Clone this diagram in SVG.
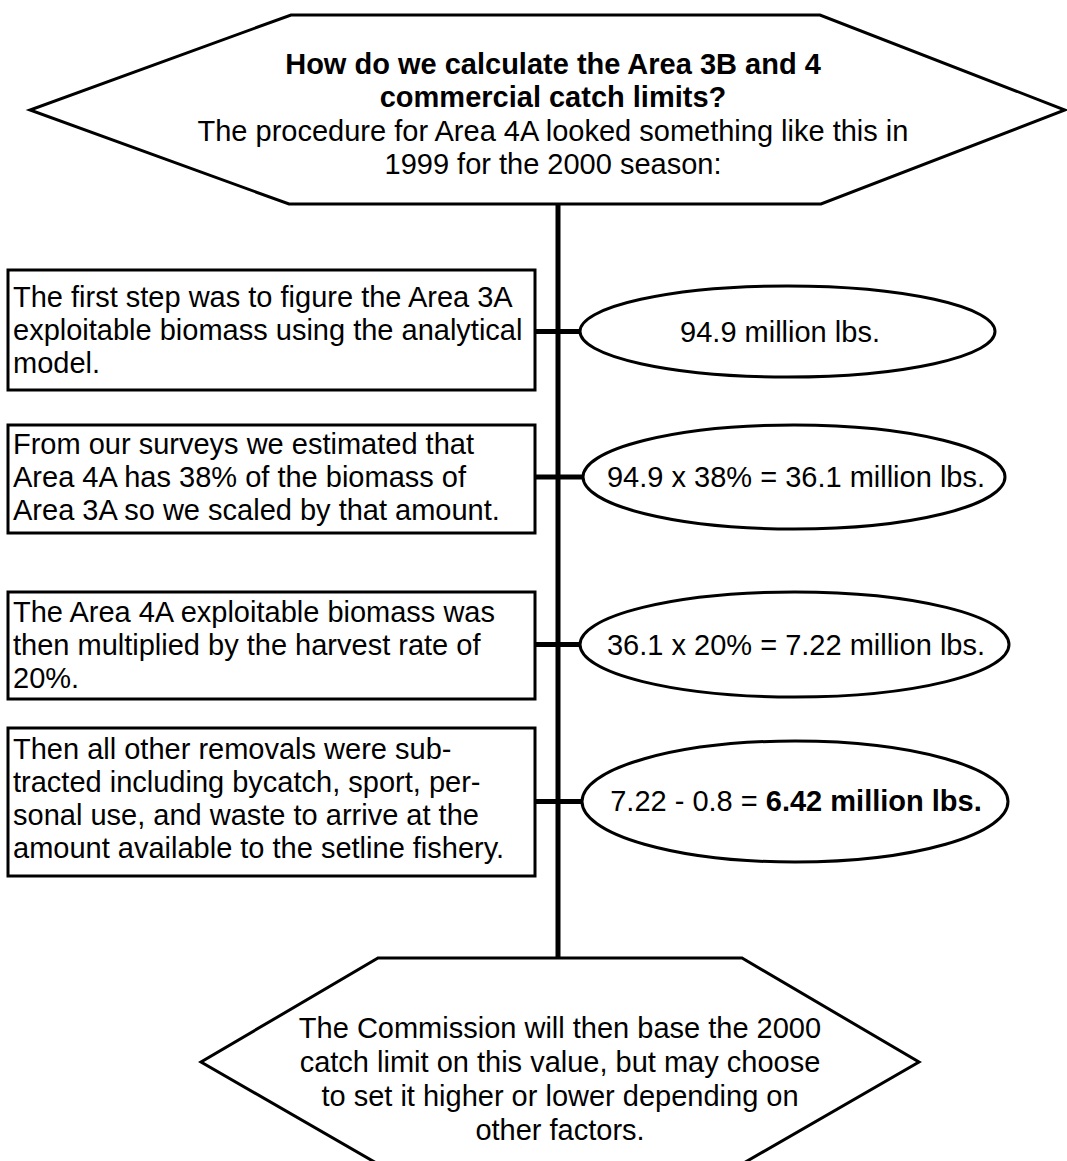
<svg xmlns="http://www.w3.org/2000/svg" width="1067" height="1161" viewBox="0 0 1067 1161">
<style>
text { font-family: "Liberation Sans", Arial, sans-serif; font-size: 29px; fill: #000; }
.c { text-anchor: middle; }
.b { font-weight: bold; }
.shape { fill: #fff; stroke: #000; stroke-width: 3; }
.conn { stroke: #000; fill: none; }
</style>
<rect width="1067" height="1161" fill="#fff"/>
<g id="connectors">
  <line class="conn" x1="558" y1="204" x2="558" y2="958" stroke-width="5"/>
  <line class="conn" x1="535" y1="331.5" x2="581" y2="331.5" stroke-width="5"/>
  <line class="conn" x1="535" y1="477" x2="584" y2="477" stroke-width="5"/>
  <line class="conn" x1="535" y1="644.5" x2="581" y2="644.5" stroke-width="5"/>
  <line class="conn" x1="535" y1="801.5" x2="583" y2="801.5" stroke-width="5"/>
</g>
<g id="top">
  <polygon class="shape" points="291,15 820,15 1065,110 821,204 289,204 30,110"/>
  <text class="c b" x="553" y="74">How do we calculate the Area 3B and 4</text>
  <text class="c b" x="553" y="107">commercial catch limits?</text>
  <text class="c" x="553" y="141">The procedure for Area 4A looked something like this in</text>
  <text class="c" x="553" y="174">1999 for the 2000 season:</text>
</g>
<g id="box1">
  <rect class="shape" x="8" y="270" width="527" height="120"/>
  <text x="13" y="307">The first step was to figure the Area 3A</text>
  <text x="13" y="340">exploitable biomass using the analytical</text>
  <text x="13" y="373">model.</text>
</g>
<g id="ellipse1">
  <ellipse class="shape" cx="787.5" cy="331.5" rx="207.5" ry="45.5"/>
  <text class="c" x="780" y="341.5">94.9 million lbs.</text>
</g>
<g id="box2">
  <rect class="shape" x="8" y="425" width="527" height="108"/>
  <text x="13" y="454">From our surveys we estimated that</text>
  <text x="13" y="487">Area 4A has 38% of the biomass of</text>
  <text x="13" y="520">Area 3A so we scaled by that amount.</text>
</g>
<g id="ellipse2">
  <ellipse class="shape" cx="794" cy="477" rx="211" ry="52"/>
  <text class="c" x="796" y="487">94.9 x 38% = 36.1 million lbs.</text>
</g>
<g id="box3">
  <rect class="shape" x="8" y="592" width="527" height="107"/>
  <text x="13" y="622">The Area 4A exploitable biomass was</text>
  <text x="13" y="655">then multiplied by the harvest rate of</text>
  <text x="13" y="688">20%.</text>
</g>
<g id="ellipse3">
  <ellipse class="shape" cx="794.5" cy="644.5" rx="214.5" ry="52.5"/>
  <text class="c" x="796" y="655">36.1 x 20% = 7.22 million lbs.</text>
</g>
<g id="box4">
  <rect class="shape" x="8" y="728" width="527" height="148"/>
  <text x="13" y="759">Then all other removals were sub-</text>
  <text x="13" y="792">tracted including bycatch, sport, per-</text>
  <text x="13" y="825">sonal use, and waste to arrive at the</text>
  <text x="13" y="858">amount available to the setline fishery.</text>
</g>
<g id="ellipse4">
  <ellipse class="shape" cx="795" cy="801.5" rx="213" ry="60.5"/>
  <text class="c" x="796" y="811">7.22 - 0.8 = <tspan class="b">6.42 million lbs.</tspan></text>
</g>
<g id="bottom">
  <polygon class="shape" points="378,958 742,958 919,1062 742,1164 378,1164 201,1062"/>
  <text class="c" x="560" y="1038">The Commission will then base the 2000</text>
  <text class="c" x="560" y="1072">catch limit on this value, but may choose</text>
  <text class="c" x="560" y="1106">to set it higher or lower depending on</text>
  <text class="c" x="560" y="1140">other factors.</text>
</g>
</svg>
